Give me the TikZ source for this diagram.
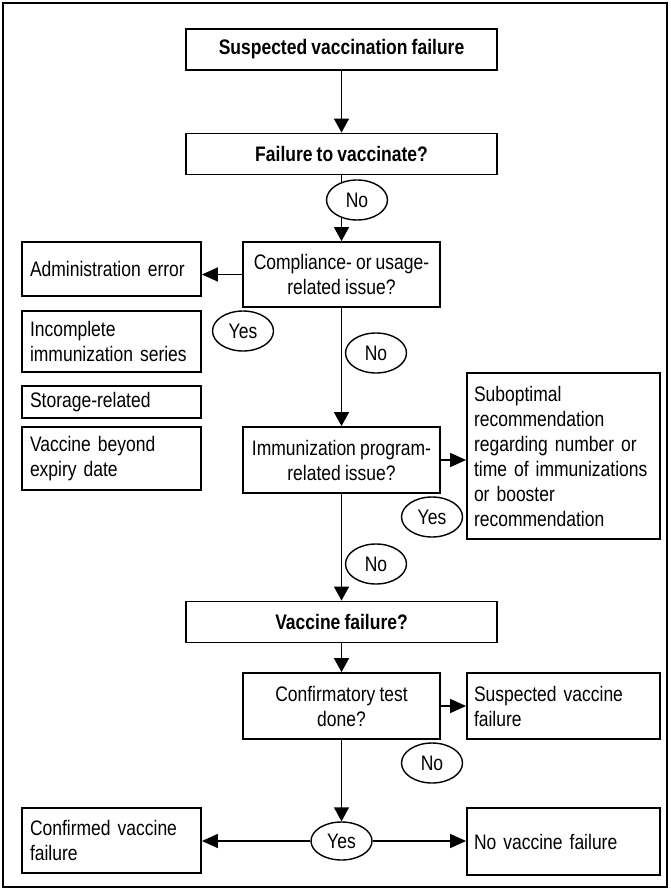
\documentclass[tikz,border=0pt]{standalone}
\usepackage{fontspec}
\setmainfont{Liberation Sans}[FakeStretch=0.833,WordSpace=0.85]
\usetikzlibrary{arrows.meta,shapes.geometric}
\tikzset{
  box/.style={draw, line width=1.8pt, inner ysep=0pt, font=\fontsize{21}{25}\selectfont},
  titlebox/.style={box, minimum width=311pt, minimum height=41pt, inner xsep=0pt},
  qbox/.style={box, minimum width=197pt, minimum height=65pt, inner xsep=0pt, align=center},
  lbox/.style={box, inner xsep=8pt, text width=163pt, align=left},
  rbox/.style={box, inner xsep=7pt, text width=179pt, align=left},
  lab/.style={ellipse, draw, fill=white, line width=1.4pt, minimum width=61pt, minimum height=40pt, inner sep=0pt, font=\fontsize{21}{25}\selectfont},
  varrow/.style={line width=1.4pt, -{Triangle[length=14pt,width=15pt]}},
  harrow/.style={line width=1.4pt, -{Triangle[length=16pt,width=14pt]}}
}
\begin{document}
\begin{tikzpicture}[x=1pt,y=-1pt]
\useasboundingbox (0,0) rectangle (670,890);
\draw[line width=2pt] (3,3) rectangle (667,887);

\node[titlebox] (b1) at (341.5,49.5) {\textbf{Suspected vaccination failure}};
\node[titlebox] (b2) at (341.5,154) {\textbf{Failure to vaccinate?}};
\node[qbox] (comp) at (341.5,274.5) {Compliance- or usage-\\related issue?};
\node[lbox, minimum height=54pt] (admin) at (111.5,269) {Administration error};
\node[lbox, minimum height=61pt] (incomp) at (111.5,341.5) {Incomplete\\immunization series};
\node[lbox, minimum height=32pt] (stor) at (111.5,402) {Storage-related};
\node[lbox, minimum height=63pt] (beyond) at (111.5,458.5) {Vaccine beyond\\expiry date};
\node[qbox, minimum height=66pt] (immun) at (341.5,460) {Immunization program-\\related issue?};
\node[rbox, minimum height=166pt] (subopt) at (563.5,456) {Suboptimal\\recommendation\\regarding number or\\time of immunizations\\or booster\\recommendation};
\node[titlebox] (vf) at (341.5,622) {\textbf{Vaccine failure?}};
\node[qbox, minimum height=66pt] (conf) at (341.5,706) {Confirmatory test\\done?};
\node[rbox, minimum height=66pt] (susp) at (563.5,706) {Suspected vaccine\\failure};
\node[lbox, minimum height=65pt] (confd) at (111.5,840.5) {Confirmed vaccine\\failure};
\node[rbox, minimum height=67pt] (novf) at (563.5,841.5) {No vaccine failure};

\draw[varrow] (b1) -- (b2);
\draw[varrow] (b2) -- (comp);
\draw[harrow] (comp.west) -- (comp.west -| admin.east);
\draw[varrow] (comp) -- (immun);
\draw[harrow] (immun.east) -- (immun.east -| subopt.west);
\draw[varrow] (immun) -- (vf);
\draw[varrow] (vf) -- (conf);
\draw[harrow] (conf) -- (susp);

\node[lab] (no1) at (357,200) {No};
\node[lab] (yes1) at (243,331) {Yes};
\node[lab] (no2) at (376,353) {No};
\node[lab] (yes2) at (432,517) {Yes};
\node[lab] (no3) at (376,564) {No};
\node[lab] (no4) at (432,763) {No};
\node[lab, minimum height=38pt] (yes3) at (341.5,841) {Yes};

\draw[varrow] (conf) -- (yes3);
\draw[harrow] (yes3.west) -- (yes3.west -| confd.east);
\draw[harrow] (yes3.east) -- (yes3.east -| novf.west);
\end{tikzpicture}
\end{document}
